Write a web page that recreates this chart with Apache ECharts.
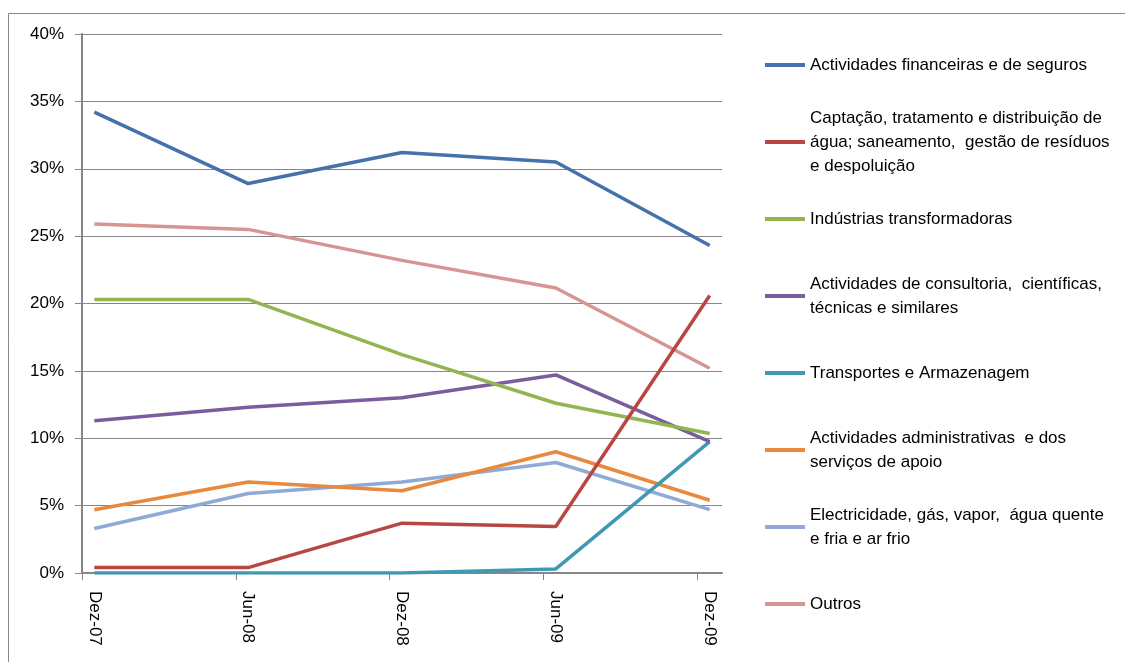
<!DOCTYPE html>
<html>
<head>
	<meta charset="utf-8">
	<title>Sectores</title>
	<style type="text/css">
		body { margin: 0; padding: 0; background: #fff; }
		#main { width: 1125px; height: 662px; }
	</style>
	<script src="https://cdn.jsdelivr.net/npm/echarts@6/dist/echarts.min.js"></script>
</head>
<body>
	<div id="main"></div>
	<script type="text/javascript">

	// categorias (eixo x)
	var periodos = ['Dez-07', 'Jun-08', 'Dez-08', 'Jun-09', 'Dez-09'];
	var yTicks = [0, 0.05, 0.10, 0.15, 0.20, 0.25, 0.30, 0.35, 0.40];

	// series (valores em %)
	var financeiras   = [34.2, 28.9, 31.2, 30.5, 24.3];
	var agua          = [0.4, 0.4, 3.7, 3.45, 20.6];
	var transformad   = [20.3, 20.3, 16.2, 12.6, 10.35];
	var consultoria   = [11.3, 12.3, 13.0, 14.7, 9.75];
	var transportes   = [0.0, 0.0, 0.0, 0.3, 9.75];
	var administrat   = [4.7, 6.75, 6.1, 9.0, 5.4];
	var electricidade = [3.3, 5.9, 6.75, 8.2, 4.7];
	var outros        = [25.9, 25.5, 23.2, 21.15, 15.2];

	var nomes = [
		'Actividades financeiras e de seguros',
		'Captação, tratamento e distribuição de\nágua; saneamento,  gestão de resíduos\ne despoluição',
		'Indústrias transformadoras',
		'Actividades de consultoria,  científicas,\ntécnicas e similares',
		'Transportes e Armazenagem',
		'Actividades administrativas  e dos\nserviços de apoio',
		'Electricidade, gás, vapor,  água quente\ne fria e ar frio',
		'Outros'
	];
	var valores = [financeiras, agua, transformad, consultoria, transportes, administrat, electricidade, outros];
	var cores = ['#4572AD', '#B84744', '#92B550', '#795D9C', '#4099B3', '#E8893E', '#8FAAD6', '#D69593'];

	var fonte = '"Liberation Sans", Arial, sans-serif';
	var lh = 24;
	var desvio = 0.08; // ticks do eixo ficam um pouco à esquerda dos pontos

	var series = [];
	var legendas = [];
	for (var i = 0; i < nomes.length; i++) {
		var pts = [];
		for (var j = 0; j < periodos.length; j++) {
			pts.push([j, valores[i][j] / 100]);
		}
		series.push({
			name: nomes[i],
			type: 'line',
			data: pts,
			symbol: 'none',
			color: cores[i],
			lineStyle: { width: 3.5, color: cores[i] },
			z: 10 - i
		});
		var n = nomes[i].split('\n').length;
		var centro = 65 + i * 77;
		legendas.push({
			orient: 'vertical',
			left: 765,
			top: centro - (2 * n - 1) * lh / 2,
			itemWidth: 40,
			itemHeight: 4,
			itemGap: 0,
			padding: 0,
			icon: 'rect',
			selectedMode: false,
			data: [{ name: nomes[i], textStyle: { padding: [(n - 1) * lh, 0, 0, 0] } }],
			textStyle: { fontFamily: fonte, fontSize: 17, color: '#000', lineHeight: lh, padding: [(n - 1) * lh, 0, 0, 0] }
		});
	}

	var tickPos = [];
	for (var k = 0; k < periodos.length; k++) tickPos.push(k - desvio);

	var option = {
		animation: false,
		backgroundColor: '#fff',
		graphic: [{
			type: 'rect',
			shape: { x: 8.5, y: 13.5, width: 1130, height: 670 },
			style: { fill: 'none', stroke: '#868686', lineWidth: 1 },
			silent: true
		}],
		grid: { left: 82, top: 34, width: 640, height: 539, containLabel: false },
		legend: legendas,
		xAxis: {
			type: 'value',
			min: -desvio,
			max: 4 + desvio,
			splitLine: { show: false },
			axisLine: { show: true, onZero: false, lineStyle: { color: '#868686', width: 2 } },
			axisTick: { show: true, length: 7, customValues: tickPos, lineStyle: { color: '#868686' } },
			axisLabel: {
				customValues: [0, 1, 2, 3, 4],
				rotate: -90,
				margin: 18,
				fontFamily: fonte,
				fontSize: 17,
				color: '#000',
				formatter: function (v) { return periodos[Math.round(v)]; }
			}
		},
		yAxis: {
			type: 'value',
			min: 0,
			max: 0.4,
			interval: 0.05,
			axisLine: { show: true, onZero: false, lineStyle: { color: '#868686', width: 2 } },
			axisTick: { show: true, length: 7, lineStyle: { color: '#868686' } },
			splitLine: { show: true, lineStyle: { color: '#868686', width: 1 } },
			axisLabel: {
				margin: 18,
				fontFamily: fonte,
				fontSize: 17,
				color: '#000',
				formatter: function (v) {
					for (var t = 0; t < yTicks.length; t++) {
						if (Math.abs(yTicks[t] - v) < 1e-6) return Math.round(yTicks[t] * 100) + '%';
					}
					return '';
				}
			}
		},
		series: series
	};

	var chart = echarts.init(document.getElementById('main'));
	chart.setOption(option);

	</script>
</body>
</html>
